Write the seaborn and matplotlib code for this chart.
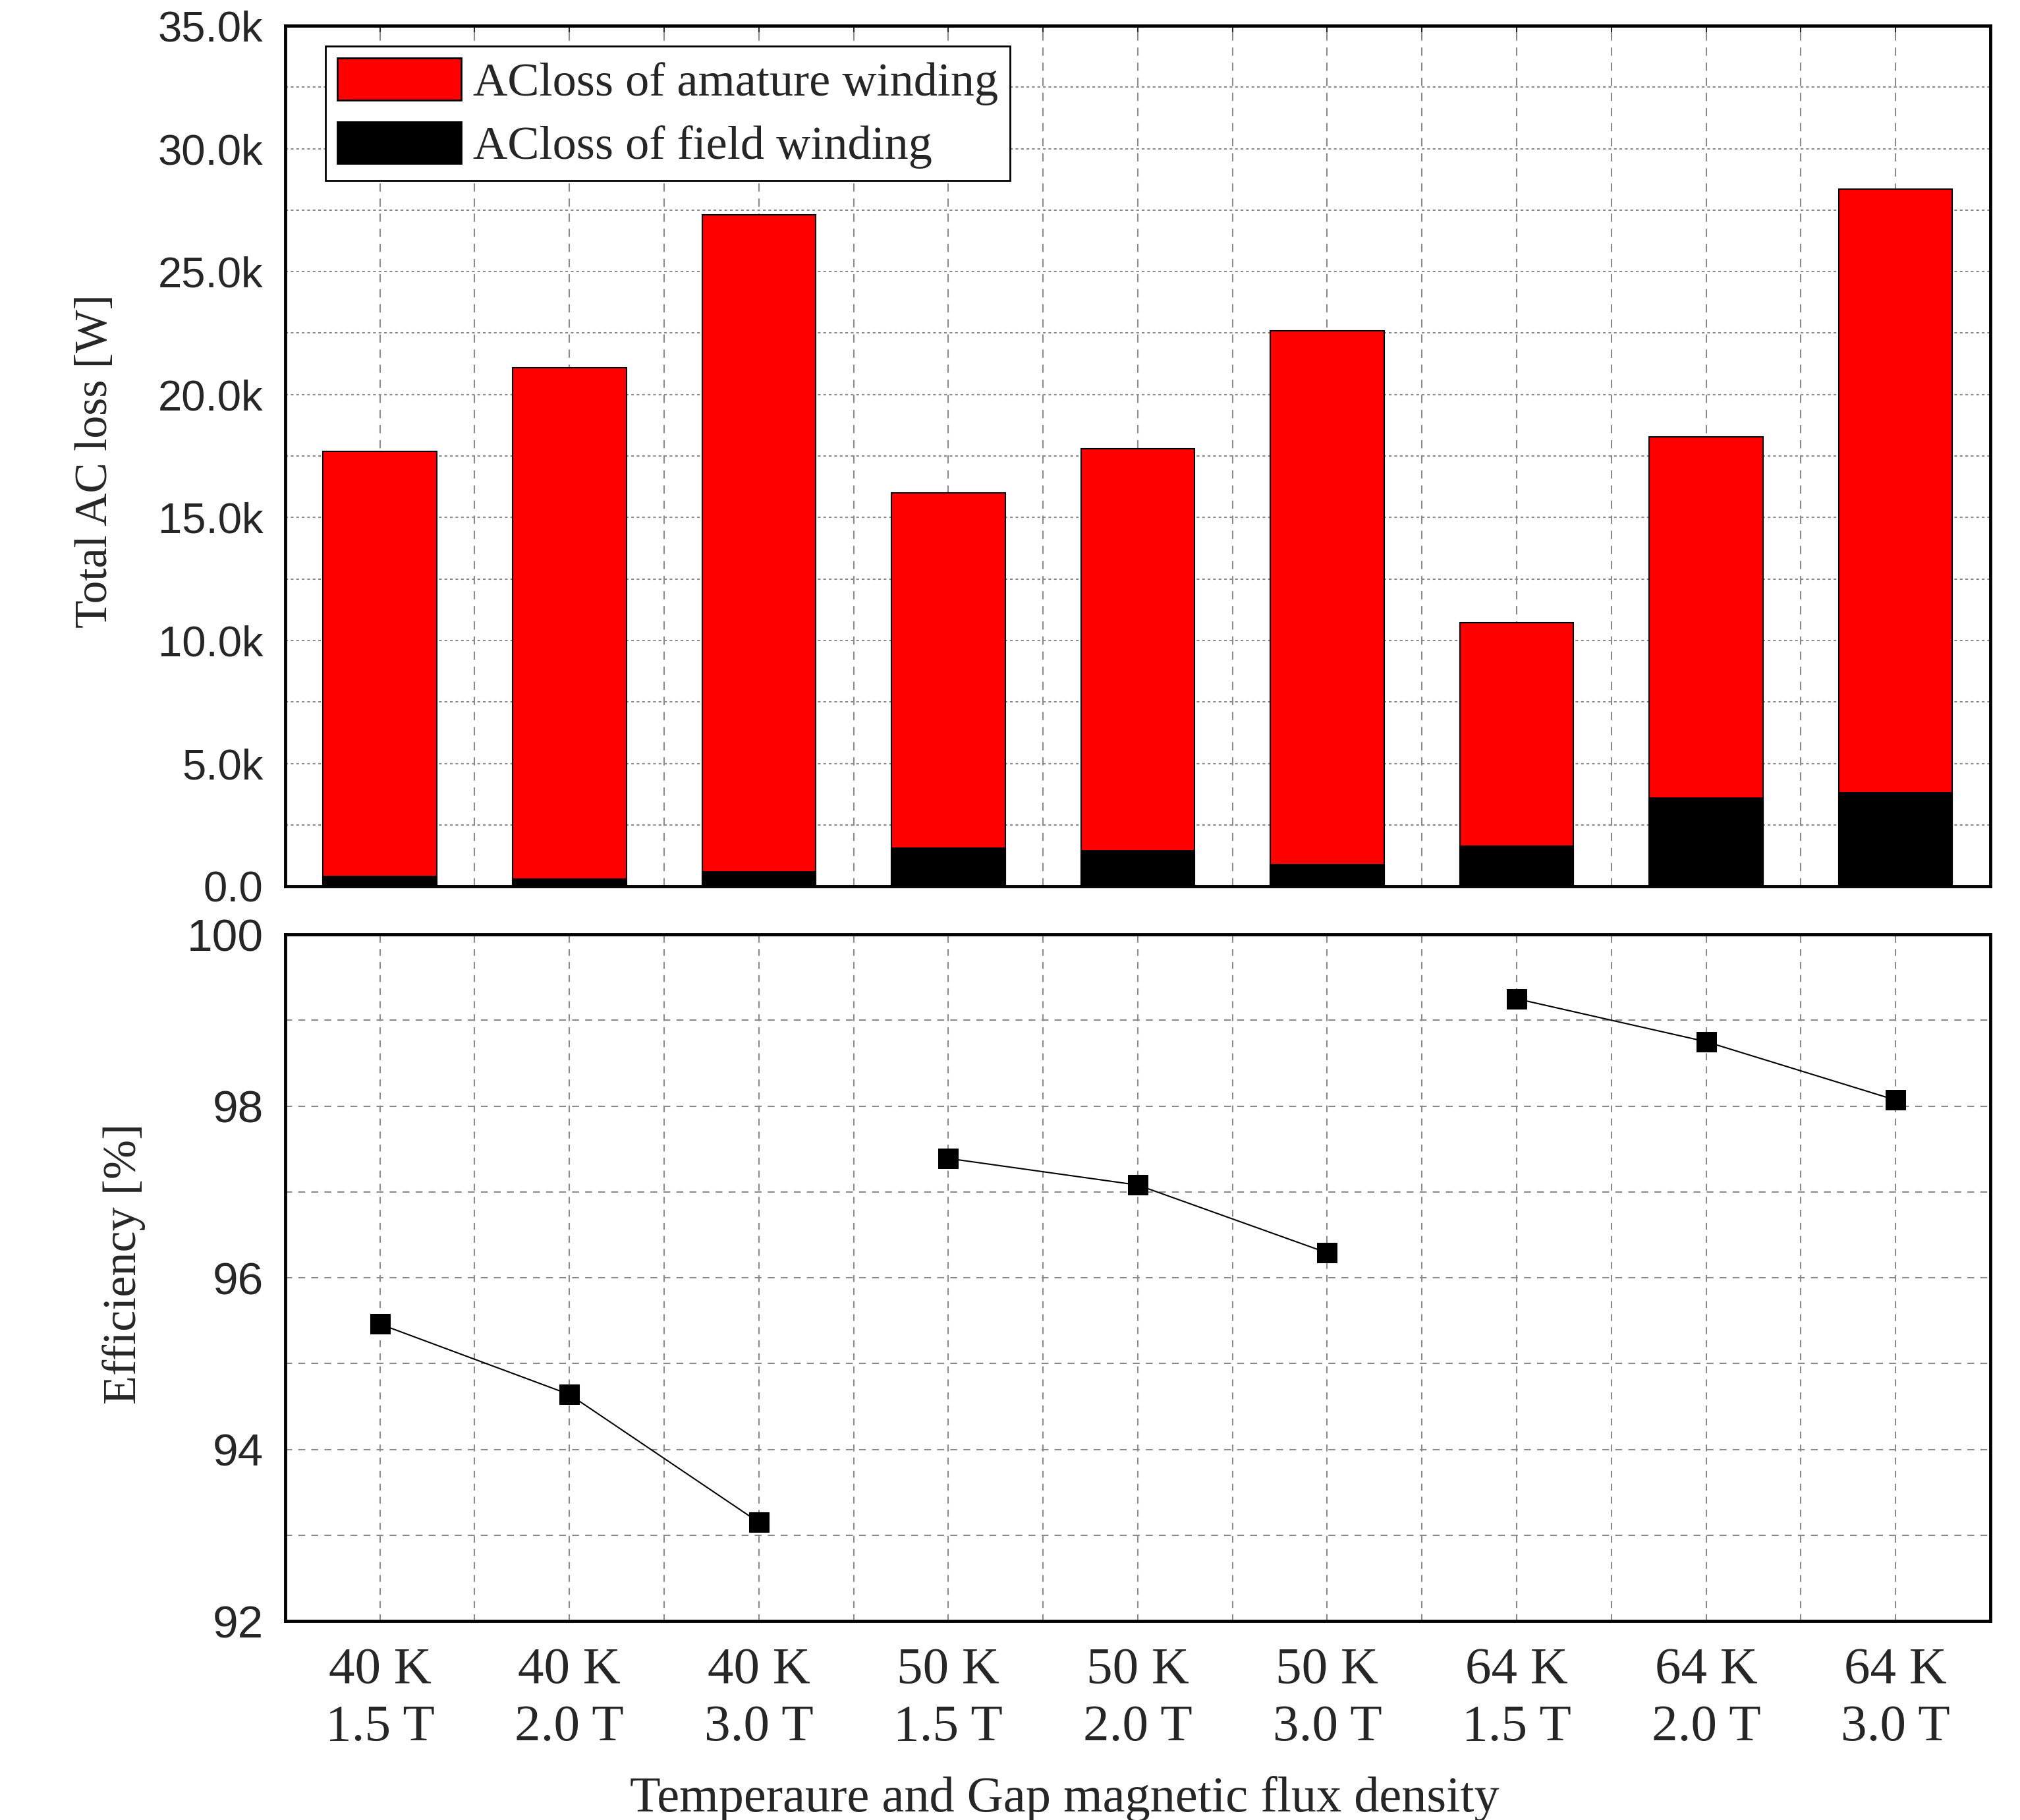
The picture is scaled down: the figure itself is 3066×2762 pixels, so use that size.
import numpy as np
import pandas as pd
import seaborn as sns
import matplotlib
matplotlib.use('Agg')
from matplotlib import pyplot as plt
from matplotlib.ticker import MultipleLocator, FuncFormatter, FixedLocator
from matplotlib.patches import Patch

# values
conditions = ['40 K\n1.5 T', '40 K\n2.0 T', '40 K\n3.0 T',
              '50 K\n1.5 T', '50 K\n2.0 T', '50 K\n3.0 T',
              '64 K\n1.5 T', '64 K\n2.0 T', '64 K\n3.0 T']
temperatures = ['40 K', '40 K', '40 K', '50 K', '50 K', '50 K', '64 K', '64 K', '64 K']
armature_loss = [17290, 20790, 26710, 14450, 16340, 21700, 9060, 14670, 24540]  # W
field_loss = [400, 300, 600, 1550, 1450, 900, 1650, 3600, 3800]  # W
efficiency = [95.46, 94.64, 93.15, 97.39, 97.08, 96.29, 99.25, 98.75, 98.07]  # %

df = pd.DataFrame({'condition': conditions, 'temp': temperatures,
                   'armature': armature_loss, 'field': field_loss,
                   'efficiency': efficiency})
df['total'] = df['armature'] + df['field']
df['pos'] = np.arange(len(df))

sns.set_style('white')
plt.rcParams['font.family'] = ['Liberation Serif', 'DejaVu Serif']

SERIF = 'Liberation Serif'
SANS = 'Liberation Sans'
GRID = '#8a8a8a'

fig = plt.figure(figsize=(30.66, 27.62), dpi=100)
ax1 = fig.add_axes([0.1412, 0.5130, 0.8441, 0.4729])
ax2 = fig.add_axes([0.1412, 0.1093, 0.8441, 0.3773])

# ---- top panel: stacked AC loss bars ----
sns.barplot(data=df, x='condition', y='total', color='red', saturation=1,
            edgecolor='black', linewidth=1.5, width=0.6, ax=ax1)
sns.barplot(data=df, x='condition', y='field', color='black', saturation=1,
            edgecolor='black', linewidth=1.5, width=0.6, ax=ax1)

ax1.set_xlim(-0.5, 8.5)
ax1.set_ylim(0, 35000)
ax1.set_axisbelow(True)
ax1.yaxis.set_major_locator(MultipleLocator(5000))
ax1.yaxis.set_minor_locator(MultipleLocator(2500))
ax1.yaxis.set_major_formatter(FuncFormatter(lambda v, p: '0.0' if v == 0 else f'{v/1000:.1f}k'))
ax1.xaxis.set_minor_locator(MultipleLocator(0.5))
ax1.grid(which='both', axis='y', color=GRID, linewidth=1.5, linestyle=(0, (2, 2)))
ax1.grid(which='both', axis='x', color=GRID, linewidth=1.5, linestyle=(0, (6, 5)))
ax1.tick_params(axis='y', which='major', direction='in', length=27, width=3,
                labelsize=47, pad=24)
ax1.tick_params(axis='y', which='minor', direction='in', length=14, width=3)
ax1.tick_params(axis='x', which='major', direction='in', length=25, width=2,
                labelbottom=False)
ax1.tick_params(axis='x', which='minor', direction='in', length=14, width=2)
for lab in ax1.get_yticklabels():
    lab.set_fontfamily(SANS)
ax1.set_xlabel('')
ax1.set_ylabel('Total AC loss [W]', fontsize=50, fontfamily=SERIF)
ax1.yaxis.set_label_coords(-0.099, 0.494)

top = ax1.secondary_xaxis('top')
top.xaxis.set_major_locator(MultipleLocator(0.5))
top.tick_params(direction='in', length=7, width=1.5, labeltop=False)
top.spines['top'].set_visible(False)

handles = [Patch(facecolor='red', edgecolor='black', linewidth=2),
           Patch(facecolor='black', edgecolor='black', linewidth=2)]
leg = ax1.legend(handles, ['ACloss of amature winding', 'ACloss of field winding'],
                 loc='upper left', bbox_to_anchor=(0.0236, 0.976), borderaxespad=0,
                 prop={'family': SERIF, 'size': 52}, handlelength=2.6,
                 handleheight=0.97, handletextpad=0.25, labelspacing=0.35,
                 borderpad=0.25, fancybox=False, framealpha=1, edgecolor='black')
leg.get_frame().set_linewidth(2)

# ---- bottom panel: efficiency ----
sns.lineplot(data=df, x='pos', y='efficiency', units='temp', estimator=None,
             color='black', marker='s', markersize=21, markeredgecolor='black',
             linewidth=1.5, ax=ax2)
ax2.set_xlim(-0.5, 8.5)
ax2.set_ylim(92, 100)
ax2.set_axisbelow(True)
ax2.xaxis.set_major_locator(FixedLocator(df['pos'].tolist()))
ax2.set_xticklabels(conditions)
ax2.xaxis.set_minor_locator(MultipleLocator(0.5))
ax2.yaxis.set_major_locator(MultipleLocator(2))
ax2.yaxis.set_minor_locator(MultipleLocator(1))
ax2.grid(which='both', color=GRID, linewidth=1.5, linestyle=(0, (5, 4.5)))
ax2.tick_params(axis='y', which='major', direction='in', length=25, width=3,
                labelsize=50, pad=24)
ax2.tick_params(axis='y', which='minor', direction='in', length=13, width=3)
ax2.tick_params(axis='x', which='major', direction='in', length=0, labelsize=57, pad=28)
ax2.tick_params(axis='x', which='minor', direction='in', length=18, width=3)
for lab in ax2.get_yticklabels():
    lab.set_fontfamily(SANS)
for lab in ax2.get_xticklabels():
    lab.set_fontfamily(SERIF)
    lab.set_linespacing(1.3)
ax2.set_ylabel('Efficiency [%]', fontsize=52, fontfamily=SERIF)
ax2.yaxis.set_label_coords(-0.082, 0.52)
ax2.set_xlabel('Temperaure and Gap magnetic flux density', fontsize=55, fontfamily=SERIF)
ax2.xaxis.set_label_coords(0.457, -0.225)

for ax in (ax1, ax2):
    for sp in ax.spines.values():
        sp.set_visible(True)
        sp.set_linewidth(3.5)
        sp.set_color('black')

fig.savefig('out.png', dpi=100)
plt.close()
